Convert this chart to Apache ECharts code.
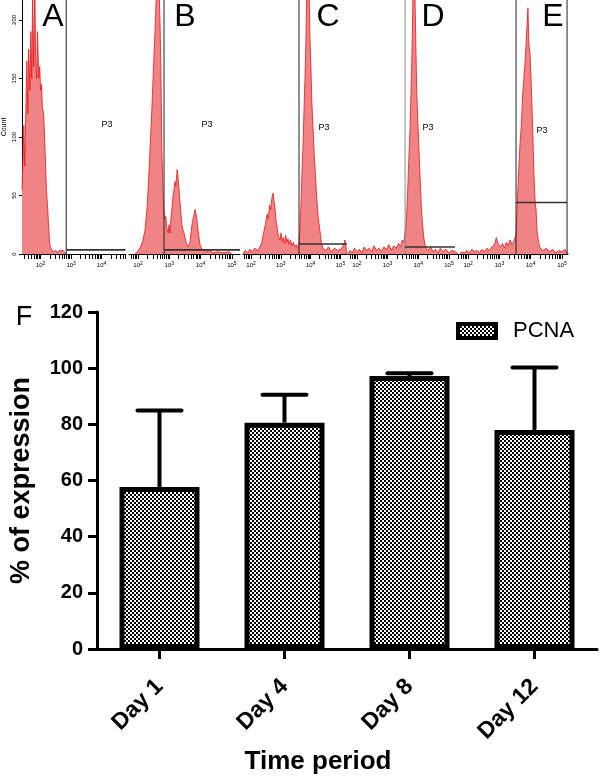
<!DOCTYPE html>
<html><head><meta charset="utf-8">
<script src="https://cdn.jsdelivr.net/npm/echarts@6/dist/echarts.min.js"></script>
<style>html,body{margin:0;padding:0;background:#fff}#c{width:600px;height:780px}</style>
</head><body><div id="c"></div>
<script>
// ---------- Bar chart data (panel F) ----------
const categories = ['Day 1', 'Day 4', 'Day 8', 'Day 12'];
const pcnaMean = [57.7, 80.6, 97.2, 78.0];
const pcnaUpper = [84.9, 90.5, 98.2, 100.2];
const barYTicks = [0, 20, 40, 60, 80, 100, 120];

// ---------- Flow cytometry histograms (x = log10 fluorescence, y = count) ----------
const panelLabels = ['A', 'B', 'C', 'D', 'E'];
const histYTicks = [0, 50, 100, 150, 200];
const decadeTicks = [2, 3, 4, 5];
const histA = [[1.39,55],[1.42,80],[1.45,110],[1.48,75],[1.52,130],[1.55,165],[1.58,120],[1.61,175],[1.65,140],[1.68,190],[1.71,150],[1.74,225],[1.77,160],[1.81,230],[1.84,165],[1.87,150],[1.90,190],[1.94,150],[1.97,160],[2.00,140],[2.03,145],[2.06,125],[2.10,120],[2.13,100],[2.16,80],[2.19,55],[2.23,40],[2.26,25],[2.29,12],[2.32,6],[2.36,4],[2.42,2],[2.50,3],[2.55,1],[2.62,3],[2.68,2],[2.74,3],[2.84,0]];
const histB = [[1.90,0],[1.97,2],[2.06,5],[2.14,10],[2.22,20],[2.29,40],[2.35,70],[2.40,100],[2.44,123],[2.48,150],[2.51,170],[2.54,190],[2.57,210],[2.60,240],[2.63,260],[2.66,240],[2.70,200],[2.73,160],[2.76,90],[2.80,50],[2.83,35],[2.86,30],[2.89,32],[2.92,22],[2.96,18],[2.99,25],[3.02,18],[3.05,30],[3.08,38],[3.12,50],[3.15,55],[3.18,62],[3.21,58],[3.25,72],[3.28,65],[3.31,55],[3.34,45],[3.37,35],[3.40,25],[3.44,20],[3.47,18],[3.50,14],[3.55,9],[3.60,6],[3.63,8],[3.66,10],[3.70,20],[3.74,28],[3.78,32],[3.82,38],[3.85,35],[3.88,30],[3.91,22],[3.95,14],[3.98,8],[4.04,4],[4.10,3],[4.20,2],[4.30,3],[4.40,1],[4.55,2],[4.70,1],[4.90,2],[5.00,0]];
const histC = [[1.73,0],[1.80,3],[1.88,1],[1.96,4],[2.04,2],[2.13,5],[2.22,3],[2.30,6],[2.36,10],[2.42,18],[2.48,25],[2.54,34],[2.58,30],[2.62,42],[2.66,38],[2.70,48],[2.74,52],[2.77,45],[2.80,40],[2.84,28],[2.88,22],[2.92,15],[2.97,12],[3.01,18],[3.04,11],[3.08,14],[3.12,9],[3.16,16],[3.20,10],[3.24,13],[3.28,8],[3.32,12],[3.37,7],[3.42,10],[3.47,6],[3.52,8],[3.56,5],[3.60,8],[3.64,20],[3.68,45],[3.71,70],[3.74,90],[3.78,125],[3.81,150],[3.84,180],[3.87,230],[3.91,270],[3.94,240],[3.97,190],[4.01,160],[4.04,130],[4.08,108],[4.12,85],[4.16,68],[4.20,50],[4.25,32],[4.31,20],[4.36,10],[4.41,5],[4.50,3],[4.60,6],[4.70,2],[4.80,5],[4.90,3],[5.00,4],[5.10,7],[5.15,12],[5.20,3],[5.23,0]];
const histD = [[1.71,0],[1.78,3],[1.85,1],[1.92,5],[2.00,2],[2.08,4],[2.16,1],[2.24,6],[2.32,3],[2.40,5],[2.48,2],[2.56,7],[2.64,3],[2.72,5],[2.80,2],[2.88,6],[2.96,4],[3.04,8],[3.12,3],[3.20,7],[3.28,5],[3.36,9],[3.42,6],[3.48,12],[3.53,10],[3.57,18],[3.61,28],[3.65,50],[3.69,80],[3.73,105],[3.76,135],[3.79,165],[3.82,210],[3.85,270],[3.88,240],[3.92,180],[3.95,140],[3.99,110],[4.03,85],[4.06,65],[4.10,40],[4.14,25],[4.18,14],[4.22,8],[4.26,5],[4.32,3],[4.40,6],[4.48,2],[4.56,4],[4.64,1],[4.72,5],[4.80,2],[4.90,4],[5.00,1],[5.10,3],[5.20,2],[5.30,0]];
const histE = [[1.74,0],[1.80,2],[1.88,1],[1.96,3],[2.04,1],[2.12,4],[2.20,2],[2.28,3],[2.36,1],[2.44,4],[2.52,2],[2.60,5],[2.68,3],[2.76,6],[2.84,8],[2.90,14],[2.94,10],[2.98,8],[3.04,6],[3.10,9],[3.16,5],[3.22,10],[3.28,7],[3.34,12],[3.40,8],[3.45,10],[3.50,14],[3.53,18],[3.56,35],[3.59,57],[3.63,80],[3.66,95],[3.70,110],[3.74,135],[3.78,150],[3.82,165],[3.85,180],[3.88,195],[3.91,210],[3.94,180],[3.98,170],[4.01,150],[4.04,125],[4.07,100],[4.10,70],[4.14,45],[4.17,38],[4.20,20],[4.25,10],[4.30,5],[4.40,3],[4.50,5],[4.60,2],[4.70,4],[4.80,1],[4.90,3],[5.00,2],[5.10,4],[5.19,0]];
const histograms = [histA, histB, histC, histD, histE];
// P3 gate: left edge (log10), horizontal marker level (count), right edge (log10)
const gateLeft = [2.84, 2.83, 3.61, 3.57, 3.53];
const gateLevel = [3.5, 3.5, 8.5, 6, 44];
const gateRight = [4.78, 5.26, 5.22, 5.20, 5.16];
const histXMin = [1.39, 1.71, 1.73, 1.71, 1.74];
const histXMax = [4.80, 5.26, 5.22, 5.36, 5.19];
const HIST_YMAX = 217;

// ---------- layout (pixels) ----------
const histLeft = [20, 129, 243, 348, 460];
const histWidth = [106, 111, 104, 112, 108];
const FONT = 'Liberation Sans, Arial, sans-serif';

// checker pattern for bars
const pc = document.createElement('canvas'); pc.width = 4; pc.height = 4;
const g = pc.getContext('2d');
g.fillStyle = '#ffffff'; g.fillRect(0, 0, 4, 4);
g.fillStyle = '#000000'; g.fillRect(0, 0, 2, 2); g.fillRect(2, 2, 2, 2);
const pattern = { image: pc, repeat: 'repeat' };

const minorTicks = [];
[1, 2, 3, 4, 5].forEach(function (d) {
  for (let k = 1; k <= 9; k++) minorTicks.push(d + Math.log10(k));
});

const grids = [], xAxes = [], yAxes = [], series = [], graphics = [];
histograms.forEach(function (h, i) {
  grids.push({ left: histLeft[i], top: 0, width: histWidth[i], height: 254 });
  xAxes.push({
    gridIndex: i, type: 'value', min: histXMin[i], max: histXMax[i],
    axisLine: { show: true, onZero: false, lineStyle: { color: '#000', width: 1 } },
    axisTick: { show: true, customValues: minorTicks.filter(function (v) { return v >= histXMin[i] && v <= histXMax[i]; }), length: 5, lineStyle: { color: '#000', width: 1 } },
    axisLabel: {
      show: true, customValues: decadeTicks.filter(function (v) { return v >= histXMin[i] && v <= histXMax[i]; }),
      margin: 7, color: '#000',
      formatter: function (v) { return '{b|10}{s|' + v + '}'; },
      rich: { b: { fontSize: 6, fontFamily: FONT, color: '#000' }, s: { fontSize: 5, fontFamily: FONT, color: '#000', verticalAlign: 'top', padding: [0, 0, 4, 0] } }
    },
    splitLine: { show: false }
  });
  yAxes.push({
    gridIndex: i, type: 'value', min: 0, max: HIST_YMAX, show: i === 0,
    name: i === 0 ? 'Count' : '', nameLocation: 'middle', nameGap: 14,
    nameTextStyle: { fontSize: 7, fontFamily: FONT, color: '#000' },
    axisLine: { show: true, lineStyle: { color: '#000', width: 1 } },
    axisTick: { show: true, length: 3, customValues: histYTicks, lineStyle: { color: '#000' } },
    axisLabel: { show: true, rotate: 90, fontSize: 6, fontFamily: FONT, color: '#000', margin: 5, customValues: histYTicks },
    splitLine: { show: false }
  });
  series.push({
    type: 'line', xAxisIndex: i, yAxisIndex: i, data: h, symbol: 'none', clip: true,
    lineStyle: { color: '#e8141a', width: 0.8 },
    areaStyle: { color: '#f08484', opacity: 1 }, z: 2, silent: true
  });
  series.push({
    type: 'line', xAxisIndex: i, yAxisIndex: i, symbol: 'none', clip: true, silent: true, z: 3,
    data: [[gateLeft[i], 0], [gateLeft[i], HIST_YMAX]],
    lineStyle: { color: i === 3 ? '#8a8a8a' : '#222', width: 1 }
  });
  series.push({
    type: 'line', xAxisIndex: i, yAxisIndex: i, symbol: 'none', clip: false, silent: true, z: 3,
    data: [[gateLeft[i], gateLevel[i]], [gateRight[i], gateLevel[i]]],
    lineStyle: { color: '#333', width: 1.6 }
  });
  if (i === 4) {
    series.push({
      type: 'line', xAxisIndex: i, yAxisIndex: i, symbol: 'none', clip: true, silent: true, z: 3,
      data: [[gateRight[i], 0], [gateRight[i], HIST_YMAX]],
      lineStyle: { color: '#222', width: 1 }
    });
  }
});

// annotations
const letterPos = [[53, 17], [185, 17], [328, 17], [433, 17], [553, 17]];
const p3Pos = [[107, 125], [207, 125], [324, 128], [428, 128], [542, 131]];
panelLabels.forEach(function (l, i) {
  graphics.push({ type: 'text', x: letterPos[i][0], y: letterPos[i][1], z: 10,
    style: { text: l, font: '32px ' + FONT, fill: '#000', textAlign: 'center', textVerticalAlign: 'middle' } });
  graphics.push({ type: 'text', x: p3Pos[i][0], y: p3Pos[i][1], z: 10,
    style: { text: 'P3', font: '9px ' + FONT, fill: '#000', textAlign: 'center', textVerticalAlign: 'middle' } });
});
graphics.push({ type: 'text', x: 24, y: 318, z: 10,
  style: { text: 'F', font: '27px ' + FONT, fill: '#000', textAlign: 'center', textVerticalAlign: 'middle' } });
graphics.push({ type: 'text', x: 318, y: 762, z: 10,
  style: { text: 'Time period', font: 'bold 26px ' + FONT, fill: '#000', textAlign: 'center', textVerticalAlign: 'middle' } });

// bar chart (grid 5)
grids.push({ left: 95, top: 312, right: 3, bottom: 131 });
xAxes.push({
  gridIndex: 5, type: 'category', data: categories,
  axisLine: { show: true, lineStyle: { color: '#000', width: 3 } },
  axisTick: { show: true, alignWithLabel: true, length: 10, lineStyle: { color: '#000', width: 3 } },
  axisLabel: { rotate: 45, fontSize: 23, fontWeight: 'bold', fontFamily: FONT, color: '#000', margin: 34, interval: 0 }
});
yAxes.push({
  gridIndex: 5, type: 'value', min: 0, max: 120, interval: 20,
  name: '% of expression', nameLocation: 'middle', nameGap: 62,
  nameTextStyle: { fontSize: 27, fontWeight: 'bold', fontFamily: FONT, color: '#000' },
  axisLine: { show: true, lineStyle: { color: '#000', width: 3 } },
  axisTick: { show: true, length: 9, lineStyle: { color: '#000', width: 3 } },
  axisLabel: { fontSize: 20, fontWeight: 'bold', fontFamily: FONT, color: '#000', margin: 14,
    customValues: barYTicks },
  splitLine: { show: false }
});
series.push({
  name: 'PCNA', type: 'bar', xAxisIndex: 5, yAxisIndex: 5, data: pcnaMean, barWidth: 80,
  itemStyle: { color: pattern, borderColor: '#000', borderWidth: 5 }, z: 3
});
series.push({
  type: 'custom', xAxisIndex: 5, yAxisIndex: 5, z: 2, silent: true,
  data: categories.map(function (c, i) { return [i, pcnaMean[i], pcnaUpper[i]]; }),
  renderItem: function (params, api) {
    const base = api.coord([api.value(0), api.value(1)]);
    const top = api.coord([api.value(0), api.value(2)]);
    const half = 22;
    return { type: 'group', children: [
      { type: 'line', shape: { x1: base[0], y1: base[1], x2: top[0], y2: top[1] }, style: { stroke: '#000', lineWidth: 4 } },
      { type: 'line', shape: { x1: top[0] - half, y1: top[1], x2: top[0] + half, y2: top[1] }, style: { stroke: '#000', lineWidth: 4, lineCap: 'round' } }
    ] };
  }
});

const chart = echarts.init(document.getElementById('c'), null, { renderer: 'canvas' });
chart.setOption({
  animation: false,
  backgroundColor: '#fff',
  grid: grids, xAxis: xAxes, yAxis: yAxes, series: series, graphic: graphics,
  legend: {
    data: ['PCNA'], left: 451, top: 315, itemWidth: 38, itemHeight: 14, icon: 'rect',
    textStyle: { fontSize: 22, fontFamily: FONT, color: '#000', padding: [0, 0, 0, 12] },
    itemStyle: { borderWidth: 4, borderColor: '#000' }
  }
});
</script></body></html>
